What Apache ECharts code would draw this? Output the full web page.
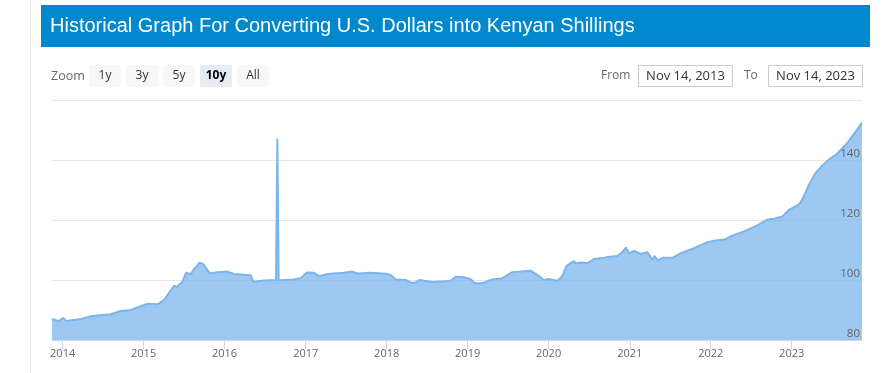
<!DOCTYPE html>
<html>
<head>
<meta charset="utf-8">
<script src="https://cdn.jsdelivr.net/npm/echarts@6/dist/echarts.min.js"></script>
<style>
html,body{margin:0;padding:0;background:#fff;}
#c{width:887px;height:373px;}
</style>
</head>
<body>
<div id="c"></div>
<script>
const titleText = 'Historical Graph For Converting U.S. Dollars into Kenyan Shillings';
const zoomButtons = ['1y', '3y', '5y', '10y', 'All'];
const selectedButton = '10y';
const fromDate = 'Nov 14, 2013';
const toDate = 'Nov 14, 2023';
const yTicks = [80, 100, 120, 140, 160];

const dates = [
  '2013-11-14','2013-12-16','2014-01-03','2014-01-18','2014-03-24','2014-05-15','2014-08-06','2014-09-20','2014-11-04',
  '2015-01-18','2015-03-04','2015-04-03','2015-05-18','2015-05-29','2015-06-25','2015-07-11','2015-08-01','2015-08-16',
  '2015-09-11','2015-09-27','2015-10-26','2015-11-30','2016-01-14','2016-02-13','2016-04-28','2016-05-09','2016-06-28',
  '2016-08-20','2016-08-26','2016-09-01','2016-09-07','2016-11-10','2016-12-10','2017-01-06','2017-02-08','2017-03-02',
  '2017-04-08','2017-06-22','2017-07-30','2017-08-22','2017-10-21','2017-12-28','2018-01-19','2018-02-11','2018-03-28',
  '2018-04-20','2018-05-12','2018-05-27','2018-07-26','2018-10-16','2018-11-08','2018-12-15','2019-01-15','2019-02-02',
  '2019-03-08','2019-04-22','2019-06-07','2019-07-22','2019-08-28','2019-10-12','2019-11-18','2019-12-11','2020-01-02',
  '2020-02-09','2020-03-03','2020-03-22','2020-04-24','2020-05-02','2020-05-25','2020-06-24','2020-07-24','2020-09-01',
  '2020-09-23','2020-11-07','2020-11-29','2020-12-14','2020-12-29','2021-01-20','2021-02-19','2021-03-21','2021-04-13',
  '2021-04-23','2021-05-08','2021-05-28','2021-07-12','2021-08-18','2021-10-18','2021-12-17','2022-01-23','2022-03-01',
  '2022-04-08','2022-05-31','2022-07-30','2022-09-13','2022-10-13','2022-11-20','2022-12-20','2023-02-03','2023-02-18',
  '2023-03-19','2023-04-19','2023-05-18','2023-06-18','2023-07-18','2023-09-09','2023-11-14'
];
const rates = [
  87.0, 86.3, 87.3, 86.3, 87.0, 88.0, 88.6, 89.7, 90.0,
  92.1, 91.9, 93.3, 98.1, 97.6, 99.4, 102.4, 101.9, 103.6,
  105.8, 105.3, 102.2, 102.6, 102.8, 102.0, 101.6, 99.4, 99.8,
  100.0, 147.2, 99.9, 99.9, 100.2, 100.7, 102.5, 102.4, 101.3,
  102.0, 102.4, 102.8, 102.2, 102.4, 102.1, 101.7, 100.2, 100.0,
  99.1, 99.2, 100.0, 99.3, 99.7, 101.1, 100.9, 100.3, 98.9,
  98.9, 100.2, 100.6, 102.6, 102.8, 103.1, 101.3, 100.0, 100.3,
  99.7, 101.3, 104.7, 106.3, 105.6, 105.8, 105.6, 107.0, 107.3,
  107.7, 108.0, 109.4, 110.8, 108.9, 109.7, 108.7, 109.3, 106.7,
  108.0, 106.5, 107.4, 107.4, 108.9, 110.6, 112.6, 113.2, 113.4,
  114.8, 116.2, 118.2, 120.1, 120.4, 121.2, 123.4, 125.2, 126.8,
  131.6, 135.7, 138.0, 140.2, 141.6, 145.7, 152.4
];

const uiFont = '"Open Sans", "DejaVu Sans", sans-serif';
const chart = echarts.init(document.getElementById('c'), null, {renderer: 'canvas'});

const graphics = [
  {type: 'rect', shape: {x: 30, y: 0, width: 1, height: 373}, style: {fill: '#e6e6e6'}, silent: true},
  {type: 'rect', shape: {x: 41, y: 5, width: 829, height: 42}, style: {fill: '#0088cc'}, silent: true},
  {type: 'text', x: 50, y: 26, style: {text: titleText, fill: '#ffffff', font: '20px "Liberation Sans", Arial, sans-serif', verticalAlign: 'middle'}},
  {type: 'text', x: 51, y: 76, style: {text: 'Zoom', fill: '#666666', font: '12.5px ' + uiFont, verticalAlign: 'middle'}}
];
zoomButtons.forEach((b, i) => {
  const x = 89 + i * 37;
  const sel = b === selectedButton;
  graphics.push({type: 'rect', shape: {x: x, y: 65, width: 32, height: 22, r: 2}, style: {fill: sel ? '#e6ebf5' : '#f7f7f7'}});
  graphics.push({type: 'text', x: x + 16, y: 76, style: {text: b, fill: sel ? '#000000' : '#333333', font: (sel ? 'bold ' : '') + '12px ' + uiFont, align: 'center', verticalAlign: 'middle'}});
});
graphics.push({type: 'text', x: 601, y: 76, style: {text: 'From', fill: '#666666', font: '12px ' + uiFont, verticalAlign: 'middle'}});
graphics.push({type: 'rect', shape: {x: 638.5, y: 65.5, width: 94, height: 21}, style: {fill: '#ffffff', stroke: '#cccccc', lineWidth: 1}});
graphics.push({type: 'text', x: 685.5, y: 76, style: {text: fromDate, fill: '#333333', font: '13px ' + uiFont, align: 'center', verticalAlign: 'middle'}});
graphics.push({type: 'text', x: 744, y: 76, style: {text: 'To', fill: '#666666', font: '12px ' + uiFont, verticalAlign: 'middle'}});
graphics.push({type: 'rect', shape: {x: 768.5, y: 65.5, width: 94, height: 21}, style: {fill: '#ffffff', stroke: '#cccccc', lineWidth: 1}});
graphics.push({type: 'text', x: 815.5, y: 76, style: {text: toDate, fill: '#333333', font: '13px ' + uiFont, align: 'center', verticalAlign: 'middle'}});

const yBase = {
  type: 'value',
  position: 'right',
  min: yTicks[0],
  max: yTicks[yTicks.length - 1],
  interval: yTicks[1] - yTicks[0],
  axisLine: {show: false},
  axisTick: {show: false}
};

chart.setOption({
  animation: false,
  graphic: graphics,
  grid: {left: 52, right: 25, top: 100, bottom: 33},
  xAxis: {
    type: 'time',
    min: '2013-11-14',
    max: '2023-11-14',
    splitNumber: 10,
    minInterval: 365 * 24 * 3600 * 1000,
    axisLine: {show: true, lineStyle: {color: '#ccd6eb', width: 1}},
    axisTick: {show: true, length: 9, lineStyle: {color: '#ccd6eb'}},
    splitLine: {show: false},
    axisLabel: {
      color: '#666666', fontSize: 11, fontFamily: uiFont, margin: 8,
      formatter: v => String(new Date(v).getFullYear()),
      showMinLabel: false, showMaxLabel: false
    }
  },
  yAxis: [
    Object.assign({}, yBase, {
      splitLine: {show: true, lineStyle: {color: '#e6e6e6', width: 1}},
      axisLabel: {show: false}
    }),
    Object.assign({}, yBase, {
      z: 10,
      splitLine: {show: false},
      axisLabel: {
        inside: true, margin: 2, color: '#666666', fontSize: 11.5, fontFamily: uiFont,
        verticalAlign: 'bottom', padding: [0, 0, 0, 0],
        formatter: v => (v === yTicks[yTicks.length - 1] ? '' : String(v))
      }
    })
  ],
  series: [{
    type: 'line',
    yAxisIndex: 0,
    data: dates.map((d, i) => [d, rates[i]]),
    symbol: 'none',
    lineStyle: {color: '#7cb5ec', width: 2},
    itemStyle: {color: '#7cb5ec'},
    areaStyle: {color: '#7cb5ec', opacity: 0.75, origin: 'start'},
    z: 2
  }]
});
</script>
</body>
</html>
